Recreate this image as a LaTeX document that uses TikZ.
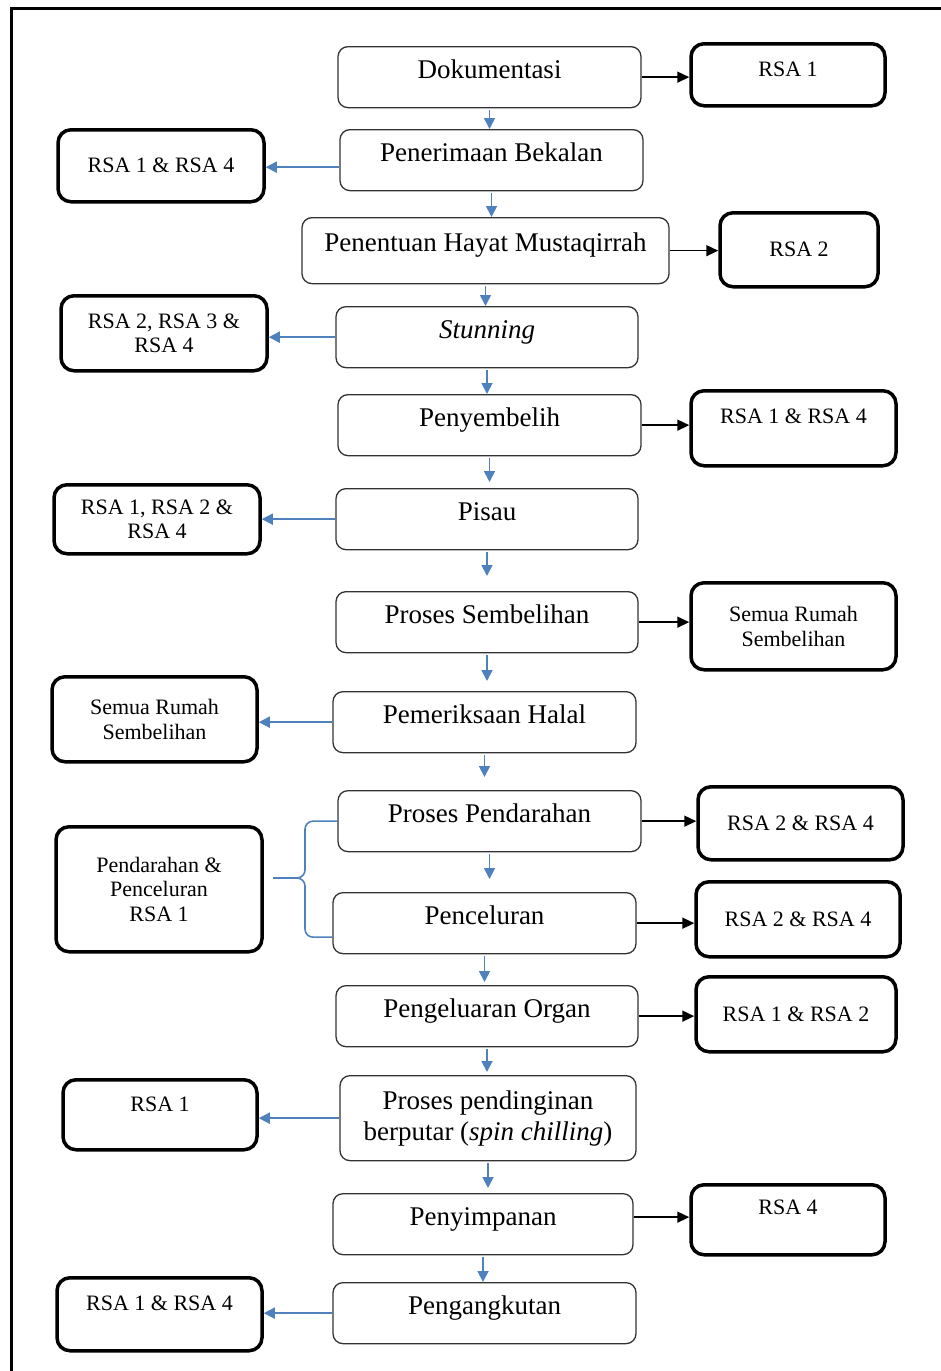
\documentclass[tikz,border=0pt]{standalone}
\usepackage{fontspec}
\setmainfont{Liberation Serif}
\usetikzlibrary{arrows.meta}
\definecolor{arrowblue}{RGB}{79,129,189}
\tikzset{
  stepbox/.style={draw=black!80, line width=1.3pt, rounded corners=10pt, anchor=north,
    inner ysep=0pt, minimum width=303pt, text height=31.5pt, text depth=29.5pt,
    align=center, font=\fontsize{27}{31}\selectfont},
  rsabox/.style={draw=black, line width=3.5pt, rounded corners=13pt, anchor=north,
    align=center, font=\fontsize{22}{24.5}\selectfont},
  rsatop/.style={inner ysep=0pt, text height=32.5pt},
  flow/.style={arrowblue, line width=1.8pt, -{Triangle[length=11pt,width=11pt]}},
  link/.style={black, line width=1.6pt, -{Triangle[length=12pt,width=11pt]}},
  bracket/.style={arrowblue, line width=1.6pt, rounded corners=8pt}
}
\begin{document}
\begin{tikzpicture}[x=1pt,y=-1pt]
  \useasboundingbox (0,0) rectangle (940,1371);
  \draw[line width=3pt] (11,1390) -- (11,8) -- (960,8);

  % main steps
  \node[stepbox] (dok) at (489.5,46) {Dokumentasi};
  \node[stepbox] (terima) at (491.5,129) {Penerimaan Bekalan};
  \node[stepbox, minimum width=367pt, text height=33.5pt, text depth=32.5pt] (hayat) at (485.5,217) {Penentuan Hayat Mustaqirrah};
  \node[stepbox, minimum width=302pt] (stun) at (487,306) {\textit{Stunning}};
  \node[stepbox] (sembelih) at (489.5,394) {Penyembelih};
  \node[stepbox, minimum width=302pt] (pisau) at (487,488) {Pisau};
  \node[stepbox, minimum width=302pt] (proses) at (487,591) {Proses Sembelihan};
  \node[stepbox] (periksa) at (484.5,691) {Pemeriksaan Halal};
  \node[stepbox] (darah) at (489.5,790) {Proses Pendarahan};
  \node[stepbox] (celur) at (484.5,892) {Penceluran};
  \node[stepbox, minimum width=302pt] (organ) at (487,985) {Pengeluaran Organ};
  \node[stepbox, minimum width=296pt, text height={}, text depth={}, minimum height=85pt] (dingin) at (488,1075) {Proses pendinginan\\berputar (\textit{spin chilling})};
  \node[stepbox, minimum width=300pt] (simpan) at (483,1193) {Penyimpanan};
  \node[stepbox] (angkut) at (484.5,1282) {Pengangkutan};

  % right side
  \node[rsabox, rsatop, minimum width=194pt, text depth=29.5pt] (r1) at (788,42) {RSA 1};
  \node[rsabox, minimum width=158pt, minimum height=74pt] (r2) at (799,211) {RSA 2};
  \node[rsabox, rsatop, minimum width=205pt, text depth=42.5pt] (r3) at (793.5,389) {RSA 1 \& RSA 4};
  \node[rsabox, minimum width=205pt, minimum height=87pt] (r4) at (793.5,581) {Semua Rumah\\Sembelihan};
  \node[rsabox, minimum width=205pt, minimum height=73pt] (r5) at (800.5,785) {RSA 2 \& RSA 4};
  \node[rsabox, minimum width=204pt, minimum height=75pt] (r6) at (798,880) {RSA 2 \& RSA 4};
  \node[rsabox, minimum width=200pt, minimum height=75pt] (r7) at (796,975) {RSA 1 \& RSA 2};
  \node[rsabox, rsatop, minimum width=194pt, text height=29.7pt, text depth=40.3pt] (r8) at (788,1183) {RSA 4};

  % left side
  \node[rsabox, minimum width=206pt, minimum height=72pt] (l1) at (161,128) {RSA 1 \& RSA 4};
  \node[rsabox, minimum width=206pt, minimum height=75pt] (l2) at (164,294) {RSA 2, RSA 3 \&\\RSA 4};
  \node[rsabox, minimum width=206pt, minimum height=69pt] (l3) at (157,483) {RSA 1, RSA 2 \&\\RSA 4};
  \node[rsabox, minimum width=205pt, minimum height=85pt] (l4) at (154.5,675) {Semua Rumah\\Sembelihan};
  \node[rsabox, minimum width=206pt, minimum height=125pt] (l5) at (159,825) {Pendarahan \&\\Penceluran\\RSA 1};
  \node[rsabox, rsatop, minimum width=194pt, text height=31.7pt, text depth=38.3pt] (l6) at (160,1078) {RSA 1};
  \node[rsabox, rsatop, minimum width=205pt, text depth=40.5pt] (l7) at (159.5,1276) {RSA 1 \& RSA 4};

  \foreach \from/\to/\gap in {dok/terima/0, terima/hayat/0, hayat/stun/0, stun/sembelih/0,
      sembelih/pisau/6, pisau/proses/15, proses/periksa/10, periksa/darah/13, darah/celur/13,
      celur/organ/3, organ/dingin/3, dingin/simpan/5, simpan/angkut/0}
    \draw[flow, shorten <=2pt, shorten >=\gap pt] (\from.south) -- (\from.south |- \to.north);

  \foreach \from/\to/\dy in {dok/r1/0, hayat/r2/0, sembelih/r3/0, proses/r4/0, darah/r5/0,
      celur/r6/0, organ/r7/0, simpan/r8/7}
    \draw[link] ([yshift=\dy pt]\from.east) -- ([yshift=\dy pt]\from.east -| \to.west);

  \foreach \from/\to/\dy in {terima/l1/-7, stun/l2/0, pisau/l3/0, periksa/l4/0, dingin/l6/0,
      angkut/l7/0}
    \draw[flow] ([yshift=\dy pt]\from.west) -- ([yshift=\dy pt]\from.west -| \to.east);

  % brace for Pendarahan & Penceluran
  \coordinate (tip) at (273,878);
  \coordinate (kink) at (305,878);
  \draw[bracket] (darah.west) -| (kink) -- (tip);
  \draw[bracket] (tip) -- (kink) |- ([yshift=-14pt]celur.west);
\end{tikzpicture}
\end{document}
